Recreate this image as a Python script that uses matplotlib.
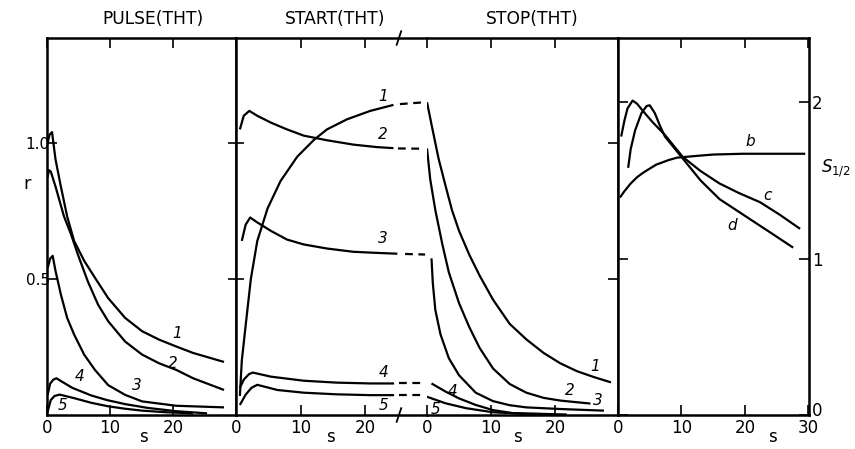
import matplotlib
matplotlib.use("Agg")
import matplotlib.pyplot as plt
import matplotlib.transforms as mtransforms

# ---------------- data ----------------
# PULSE(THT) panel: time s, ratio r
pulse1_s = [0.0, 0.4, 0.8, 1.35, 2.2, 3.2, 4.3, 5.9, 7.6, 9.7, 12.4, 15.1, 17.8, 20.5, 23.2, 28.1]
pulse1_r = [0.99, 1.03, 1.04, 0.94, 0.84, 0.73, 0.64, 0.567, 0.505, 0.43, 0.357, 0.308, 0.277, 0.252, 0.228, 0.195]
pulse2_s = [0.1, 0.3, 0.6, 1.35, 2.7, 3.8, 4.9, 6.5, 8.1, 9.7, 12.4, 15.1, 17.8, 20.5, 23.2, 28.1]
pulse2_r = [0.874, 0.90, 0.895, 0.84, 0.73, 0.665, 0.59, 0.49, 0.406, 0.345, 0.27, 0.222, 0.19, 0.166, 0.135, 0.092]
pulse3_s = [0.1, 0.5, 0.9, 1.35, 2.2, 3.2, 4.3, 5.9, 7.6, 9.7, 12.4, 15.1, 20.5, 28.1]
pulse3_r = [0.54, 0.575, 0.585, 0.53, 0.443, 0.357, 0.296, 0.222, 0.166, 0.11, 0.074, 0.05, 0.034, 0.028]
pulse4_s = [0.1, 0.5, 1.0, 1.5, 2.2, 4.0, 7.0, 9.5, 12.4, 16.0, 20.5, 25.4]
pulse4_r = [0.074, 0.115, 0.13, 0.135, 0.125, 0.10, 0.072, 0.055, 0.04, 0.026, 0.014, 0.006]
pulse5_s = [0.1, 0.6, 1.2, 2.0, 4.3, 7.0, 9.7, 12.4, 15.1, 19.0, 23.2]
pulse5_r = [0.012, 0.055, 0.07, 0.075, 0.062, 0.045, 0.032, 0.023, 0.016, 0.01, 0.006]

# START(THT) panel (solid part, then dashed continuation)
start1_s = [0.6, 0.9, 1.5, 2.3, 3.3, 4.9, 6.9, 9.5, 12.1, 14.1, 17.2, 20.8, 24.4]
start1_r = [0.07, 0.2, 0.33, 0.50, 0.64, 0.76, 0.86, 0.95, 1.012, 1.05, 1.087, 1.118, 1.14]
start2_s = [0.6, 1.2, 2.05, 3.3, 5.4, 7.9, 10.5, 14.1, 18.2, 21.8, 24.4]
start2_r = [1.05, 1.10, 1.118, 1.10, 1.075, 1.05, 1.027, 1.01, 0.994, 0.985, 0.981]
start3_s = [0.9, 1.5, 2.2, 3.3, 5.4, 7.9, 10.5, 14.1, 18.2, 21.8, 25.0]
start3_r = [0.64, 0.70, 0.726, 0.708, 0.677, 0.645, 0.627, 0.612, 0.60, 0.596, 0.593]
start4_s = [0.6, 1.2, 2.0, 2.6, 5.4, 10.5, 15.6, 20.8, 24.5]
start4_r = [0.10, 0.13, 0.15, 0.156, 0.141, 0.126, 0.119, 0.116, 0.116]
start5_s = [0.6, 1.5, 2.4, 3.3, 6.4, 10.5, 15.6, 20.8, 24.5]
start5_r = [0.037, 0.075, 0.10, 0.111, 0.092, 0.082, 0.076, 0.073, 0.073]
start_dash_s = [[25.4, 28.8], [25.1, 28.8], [26.2, 29.3], [25.3, 29.3], [25.3, 29.3]]
start_dash_r = [[1.143, 1.149], [0.98, 0.979], [0.592, 0.59], [0.116, 0.116], [0.073, 0.073]]

# STOP(THT) panel
stop1_s = [0.0, 0.8, 1.8, 2.9, 3.9, 5.0, 6.6, 8.2, 10.3, 12.9, 15.5, 18.2, 20.8, 23.4, 26.1, 28.7]
stop1_r = [1.15, 1.057, 0.943, 0.842, 0.753, 0.677, 0.589, 0.513, 0.424, 0.335, 0.278, 0.228, 0.19, 0.161, 0.139, 0.12]
stop2_s = [0.0, 0.5, 1.3, 2.4, 3.4, 5.0, 6.6, 8.2, 10.3, 12.9, 15.5, 18.2, 20.8, 25.5]
stop2_r = [0.98, 0.867, 0.753, 0.627, 0.525, 0.411, 0.323, 0.247, 0.171, 0.114, 0.082, 0.063, 0.053, 0.042]
stop3_s = [0.7, 0.9, 1.3, 2.1, 3.4, 5.0, 7.6, 10.3, 12.9, 15.5, 20.8, 27.6]
stop3_r = [0.576, 0.487, 0.386, 0.297, 0.209, 0.146, 0.082, 0.051, 0.036, 0.028, 0.022, 0.016]
stop4_s = [0.7, 2.9, 5.0, 7.6, 10.3, 13.4, 19.8]
stop4_r = [0.116, 0.086, 0.061, 0.037, 0.018, 0.007, 0.003]
stop5_s = [0.0, 2.9, 6.1, 10.3, 15.5, 21.8]
stop5_r = [0.067, 0.043, 0.025, 0.010, 0.004, 0.002]

# right panel: S_1/2 versus s
b_s = [0.3, 1.0, 2.0, 3.0, 4.0, 6.0, 8.0, 9.3, 12.0, 15.0, 19.7, 24.0, 29.5]
b_S = [1.39, 1.43, 1.48, 1.52, 1.55, 1.60, 1.63, 1.645, 1.655, 1.665, 1.67, 1.67, 1.67]
c_s = [0.5, 1.0, 1.5, 2.3, 3.0, 4.0, 5.5, 7.4, 10.2, 13.0, 16.0, 19.0, 22.4, 25.5, 28.7]
c_S = [1.78, 1.88, 1.96, 2.01, 1.99, 1.94, 1.87, 1.79, 1.65, 1.56, 1.48, 1.42, 1.36, 1.28, 1.19]
d_s = [1.6, 2.0, 2.7, 3.7, 4.5, 5.0, 5.8, 6.6, 7.4, 9.8, 13.0, 16.0, 19.0, 22.0, 25.0, 27.6]
d_S = [1.58, 1.70, 1.82, 1.93, 1.975, 1.98, 1.93, 1.85, 1.78, 1.66, 1.50, 1.38, 1.30, 1.22, 1.14, 1.07]

panel_titles = ["PULSE(THT)", "START(THT)", "STOP(THT)"]
x_ticks = [0, 10, 20]
x_ticks_right = [0, 10, 20, 30]
r_ticks = [0.5, 1.0]
r_ticklabels = ["0.5", "1.0"]
S_ticks = [0, 1, 2]

# ---------------- figure ----------------
W, H = 855, 449
fig = plt.figure(figsize=(W / 100, H / 100), dpi=100)
plt.rcParams['font.family'] = ['DejaVu Sans']

y_top, y_bot = 38, 415


def mk_ax(x0, x1):
    return fig.add_axes([x0 / W, 1 - y_bot / H, (x1 - x0) / W, (y_bot - y_top) / H])


ax1 = mk_ax(47, 236)
ax2 = mk_ax(236, 427)
ax3 = mk_ax(427, 618)
ax4 = mk_ax(618, 809)

RMAX = 1.386
for ax in (ax1, ax2, ax3):
    ax.set_ylim(0, RMAX)
ax1.set_xlim(0, 30)
ax2.set_xlim(0, 29.6)
ax3.set_xlim(0, 29.8)
ax4.set_xlim(0, 30.1)
ax4.set_ylim(0, 2.41)

LW = 1.6
SP = 1.8
for ax in (ax1, ax2, ax3, ax4):
    ax.set_facecolor("white")
    for sp in ax.spines.values():
        sp.set_linewidth(SP)
        sp.set_color("black")
    ax.tick_params(which="both", direction="in", length=7, width=1.2,
                   labelsize=12, top=True, right=False, pad=3)

ax2.spines["right"].set_visible(False)
ax3.spines["left"].set_visible(False)

k = dict(color="black", lw=LW, solid_capstyle="butt", solid_joinstyle="round")

# panel 1
for s, r in [(pulse1_s, pulse1_r), (pulse2_s, pulse2_r), (pulse3_s, pulse3_r),
             (pulse4_s, pulse4_r), (pulse5_s, pulse5_r)]:
    ax1.plot(s, r, **k)
# panel 2 start
for s, r in [(start1_s, start1_r), (start2_s, start2_r), (start3_s, start3_r),
             (start4_s, start4_r), (start5_s, start5_r)]:
    ax2.plot(s, r, **k)
for s, r in zip(start_dash_s, start_dash_r):
    ax2.plot(s, r, color="black", lw=LW, ls=(0, (3.5, 2.5)))
# stop
for s, r in [(stop1_s, stop1_r), (stop2_s, stop2_r), (stop3_s, stop3_r),
             (stop4_s, stop4_r), (stop5_s, stop5_r)]:
    ax3.plot(s, r, **k)
# right panel
for s, S in [(b_s, b_S), (c_s, c_S), (d_s, d_S)]:
    ax4.plot(s, S, **k)

# ticks
ax1.set_xticks(x_ticks)
ax1.set_xticklabels(["0", "10", "20"])
ax1.set_yticks(r_ticks)
ax1.set_yticklabels(r_ticklabels, fontsize=11)
ax1.tick_params(axis="y", pad=-2)

ax2.set_xticks(x_ticks)
ax2.set_xticklabels(["0", "10", "20"])
ax2.set_yticks(r_ticks)
ax2.tick_params(axis="y", direction="inout", length=12, labelleft=False)

ax3.set_xticks(x_ticks)
ax3.set_xticklabels(["0", "10", "20"])
ax3.set_yticks(r_ticks)
ax3.tick_params(axis="y", left=False, right=True, labelleft=False)

ax4.set_xticks(x_ticks_right)
ax4.set_xticklabels(["0", "10", "20", "30"])
ax4.set_yticks(S_ticks)
ax4.set_yticklabels(["0", "1", "2"])
ax4.tick_params(axis="y", left=True, right=True, labelleft=False, labelright=True, pad=2)
# lift the bottom "0" a little so it clears the "30"
lbl0 = ax4.get_yticklabels()[0]
lbl0.set_transform(lbl0.get_transform() + mtransforms.ScaledTranslation(0, 4 / 72, fig.dpi_scale_trans))

# break marks on START axis
tr = mtransforms.blended_transform_factory(ax2.transData, ax2.transAxes)
for yy in (0.0, 1.0):
    ax2.plot([24.9, 25.6], [yy - 0.018, yy + 0.018], color="black", lw=1.3,
             transform=tr, clip_on=False)

# curve labels
lk = dict(fontsize=11, style="italic", ha="center", va="center")
for t, x, y in [("1", 20.6, 0.30), ("2", 20.0, 0.19), ("3", 14.3, 0.11),
                ("4", 5.2, 0.14), ("5", 2.5, 0.035)]:
    ax1.text(x, y, t, **lk)
for t, x, y in [("1", 22.8, 1.17), ("2", 22.8, 1.03), ("3", 22.8, 0.65),
                ("4", 22.8, 0.155), ("5", 22.8, 0.035)]:
    ax2.text(x, y, t, **lk)
for t, x, y in [("1", 26.3, 0.18), ("2", 22.3, 0.09), ("3", 26.7, 0.055),
                ("4", 4.0, 0.085), ("5", 1.3, 0.02)]:
    ax3.text(x, y, t, **lk)
for t, x, y in [("b", 20.8, 1.75), ("c", 23.5, 1.40), ("d", 18.0, 1.21)]:
    ax4.text(x, y, t, **lk)

# titles and axis labels
tk = dict(ha="center", va="center", fontsize=12.3)
fig.text(153 / W, 1 - 19 / H, panel_titles[0], **tk)
fig.text(335 / W, 1 - 19 / H, panel_titles[1], **tk)
fig.text(532 / W, 1 - 19 / H, panel_titles[2], **tk)
fig.text(27 / W, 1 - 184 / H, "r", ha="center", va="center", fontsize=13)
fig.text(836 / W, 1 - 168 / H, r"$S_{1/2}$", ha="center", va="center", fontsize=12)
for xs in (143, 330, 517, 772):
    fig.text(xs / W, 1 - 437 / H, "s", ha="center", va="center", fontsize=12)

fig.savefig("out.png", dpi=100, facecolor="white")
